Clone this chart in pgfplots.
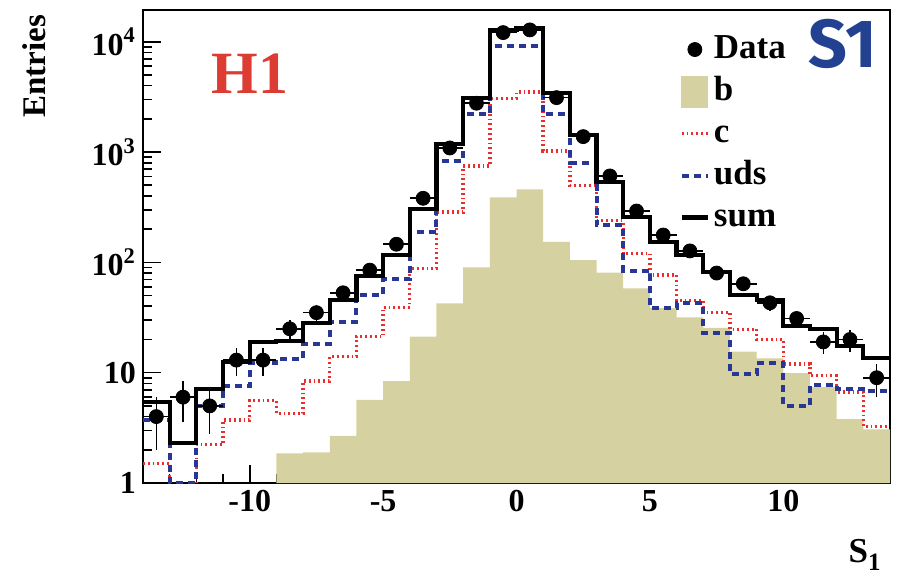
\documentclass[border=0pt]{standalone}
\usepackage{pgfplots}
\pgfplotsset{compat=1.18}
\usepackage{pgfplotstable}
\usepackage{fontspec}
\setmainfont{Liberation Serif}
\newfontfamily\sonefont{Fira Sans}
\definecolor{btan}{RGB}{214,209,160}
\definecolor{cred}{RGB}{235,45,45}
\definecolor{udsblue}{RGB}{40,55,150}
\definecolor{hred}{RGB}{220,60,50}
\definecolor{sblue}{RGB}{35,65,145}

\pgfplotstableread{
x y
-9 1.86
-8 1.9
-7 2.67
-6 5.66
-5 8.4
-4 21.2
-3 42.6
-2 90
-1 389
0 460
1 153
2 105
3 80.7
4 58.2
5 38.4
6 31.8
7 25.5
8 15.5
9 13.5
10 9.9
11 7.4
12 3.8
13 3.07
14 3.07
}\bdata

\pgfplotstableread{
x y
-14 1.51
-13 0.5
-12 2.24
-11 3.72
-10 5.57
-9 4.28
-8 8.4
-7 14.0
-6 21.2
-5 39.2
-4 88.3
-3 285
-2 748
-1 3075
0 3510
1 1023
2 500
3 239
4 121
5 76.9
6 45
7 35.3
8 24.7
9 20.1
10 12.0
11 9.4
12 6.7
13 3.24
14 3.24
}\cdata

\pgfplotstableread{
x y
-14 3.72
-13 1.0
-12 4.99
-11 7.57
-10 12.2
-9 13.3
-8 18.1
-7 28.9
-6 50.3
-5 70.3
-4 190
-3 836
-2 2200
-1 9220
0 9220
1 2200
2 801
3 218
4 84
5 38.4
6 42.6
7 22.8
8 9.7
9 12.2
10 5.0
11 7.7
12 7.07
13 6.8
14 6.8
}\udsdata

\pgfplotstableread{
x y
-14 5.46
-13 2.32
-12 7.1
-11 12.5
-10 18.9
-9 19.5
-8 28.4
-7 45.6
-6 75.7
-5 116.7
-4 303
-3 1184
-2 3075
-1 12800
0 13250
1 3455
2 1429
3 535
4 259
5 152
6 117
7 81.3
8 51
9 45.6
10 26.7
11 24.7
12 17.6
13 13.5
14 13.5
}\sumdata

\pgfplotstableread{
x y ex ey
-13.5 4 0.5 2
-12.5 6 0.5 2.45
-11.5 5 0.5 2.24
-10.5 13 0.5 3.61
-9.5 13 0.5 3.61
-8.5 25 0.5 5
-7.5 35 0.5 5.92
-6.5 53 0.5 7.28
-5.5 85 0.5 9.22
-4.5 146 0.5 12.08
-3.5 381 0.5 19.5
-2.5 1089 0.5 33
-1.5 2770 0.5 52.6
-0.5 12100 0.5 110
0.5 12800 0.5 113.1
1.5 3113 0.5 55.8
2.5 1380 0.5 37.1
3.5 607 0.5 24.6
4.5 292 0.5 17.1
5.5 177 0.5 13.3
6.5 127 0.5 11.3
7.5 80 0.5 8.94
8.5 64 0.5 8
9.5 43 0.5 6.56
10.5 31 0.5 5.57
11.5 19 0.5 4.36
12.5 20 0.5 4.47
13.5 9 0.5 3
}\ddata

\begin{document}
\begin{tikzpicture}
\useasboundingbox (-71.5pt,-47.5pt) rectangle (378pt,241.5pt);
\begin{axis}[
  scale only axis,
  width=373.5pt, height=236.5pt,
  at={(0pt,0pt)}, anchor=south west,
  ymode=log,
  xmin=-14, xmax=14,
  ymin=1, ymax=19400,
  xtick={-10,-5,0,5,10},
  xticklabels={-10,-5,0,5,10},
  minor xtick={-13,-12,...,13},
  ytick={1,10,100,1000,10000},
  yticklabels={1,10,10\textsuperscript{2},10\textsuperscript{3},10\textsuperscript{4}},
  minor ytick={2,3,4,5,6,7,8,9,20,30,40,50,60,70,80,90,200,300,400,500,600,700,800,900,2000,3000,4000,5000,6000,7000,8000,9000},
  tick pos=left,
  tick align=inside,
  major tick length=9pt,
  minor tick length=4.5pt,
  every tick/.style={black, line width=0.8pt},
  axis line style={line width=1.2pt},
  ticklabel style={font=\fontsize{16}{16}\selectfont\bfseries},
  clip mode=individual,
  legend cell align=left,
  legend style={draw=none, fill=none, at={(rel axis cs:0.71,0.968)}, anchor=north west,
    font=\fontsize{17.5}{17.5}\selectfont\bfseries, row sep=1pt,
    nodes={inner sep=2pt, text height=12.5pt, text depth=3.5pt}},
]
\addplot[forget plot, fill=btan, draw=none, const plot mark left] table {\bdata} \closedcycle;
\addplot[forget plot, cred, line width=1.7pt, dash pattern=on 0.9pt off 1.5pt, const plot mark left] table {\cdata};
\addplot[forget plot, udsblue, line width=2pt, dash pattern=on 3.5pt off 2.5pt, const plot mark left] table {\udsdata};
\addplot[forget plot, black, line width=2.1pt, const plot mark left] table {\sumdata};
\addplot[forget plot, only marks, mark=*, mark size=3.5pt, black,
  error bars/.cd, x dir=both, x explicit, y dir=both, y explicit, error mark=none,
  error bar style={line width=0.8pt, black}]
  table[x=x, y=y, x error=ex, y error=ey] {\ddata};

\addlegendimage{legend image code/.code={\fill[black] (6.5pt,0pt) circle (3.5pt);}}
\addlegendentry{Data}
\addlegendimage{legend image code/.code={\fill[btan] (0pt,-7.75pt) rectangle (13pt,7.75pt);}}
\addlegendentry{b}
\addlegendimage{legend image code/.code={\draw[cred, line width=1.7pt, dash pattern=on 0.9pt off 1.5pt] (0pt,0pt) -- (13pt,0pt);}}
\addlegendentry{c}
\addlegendimage{legend image code/.code={\draw[udsblue, line width=2pt, dash pattern=on 3.5pt off 2.5pt] (0pt,0pt) -- (13pt,0pt);}}
\addlegendentry{uds}
\addlegendimage{legend image code/.code={\draw[black, line width=2.1pt] (0pt,0pt) -- (13pt,0pt);}}
\addlegendentry{sum}

\node[text=hred, font=\fontsize{30}{30}\selectfont\bfseries] at (rel axis cs:0.143,0.865) {H1};
\node[text=sblue, font=\sonefont\fontsize{34}{34}\selectfont\bfseries] at (rel axis cs:0.937,0.928) {S1};
\node[rotate=90, anchor=east, font=\fontsize{16.5}{16.5}\selectfont\bfseries] at (rel axis cs:-0.145,1.004) {Entries};
\node[anchor=base east, font=\fontsize{17.5}{17.5}\selectfont\bfseries] at (rel axis cs:0.997,-0.168) {S\raisebox{-0.22em}{\fontsize{12.5}{12.5}\selectfont 1}};
\end{axis}
\end{tikzpicture}
\end{document}
